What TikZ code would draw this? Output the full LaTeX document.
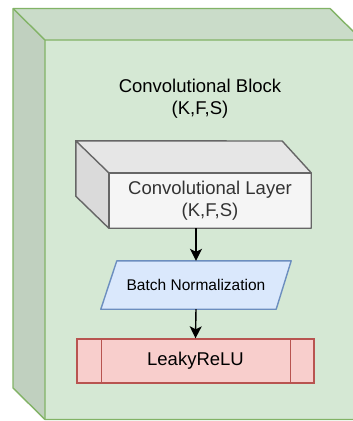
\documentclass[tikz,border=0pt]{standalone}
\usepackage{fontspec}
\setmainfont{Liberation Sans}
\usetikzlibrary{arrows.meta}
\definecolor{gfront}{HTML}{D5E8D4}
\definecolor{gtop}{HTML}{CADCC9}
\definecolor{gleft}{HTML}{C0D0BF}
\definecolor{gline}{HTML}{82B366}
\definecolor{cfront}{HTML}{F5F5F5}
\definecolor{ctop}{HTML}{E6E6E6}
\definecolor{cleft}{HTML}{DADADA}
\definecolor{cline}{HTML}{666666}
\definecolor{bfill}{HTML}{DAE8FC}
\definecolor{bline}{HTML}{6C8EBF}
\definecolor{rfill}{HTML}{F8CECC}
\definecolor{rline}{HTML}{B85450}
\definecolor{ctext}{HTML}{333333}
\begin{document}
\begin{tikzpicture}[x=1pt,y=-1pt,
  lw/.style={line width=1.4pt},
  arr/.style={lw,-{Stealth[length=12pt,width=12pt,inset=3pt]}},
  bigtext/.style={font=\fontsize{18.5}{22}\selectfont,align=center,inner sep=0pt},
  boxnode/.style={minimum width=#1,inner sep=0pt,align=center}
]
\useasboundingbox (0,0) rectangle (353,421);
\clip (0,0) rectangle (353,421);
% outer cube
\fill[gfront] (45,40) rectangle (362,419.5);
\fill[gtop] (13,8.5) -- (330,8.5) -- (362,40) -- (45,40) -- cycle;
\fill[gleft] (13,8.5) -- (45,40) -- (45,419.5) -- (13,388) -- cycle;
\draw[gline,lw,line join=round] (13,8.5) -- (330,8.5) -- (362,40) -- (362,419.5) -- (45,419.5) -- (13,388) -- cycle;
\draw[gline,lw] (13,8.5) -- (45,40) -- (362,40) (45,40) -- (45,419.5);
\node[bigtext] (title) at (200,99) {Convolutional Block\\(K,F,S)};
% convolutional layer cube
\node[boxnode=202pt,minimum height=55pt,fill=cfront,bigtext,text=ctext] (conv) at (210,200.5) {Convolutional Layer\\(K,F,S)};
\fill[ctop] (conv.north west) -- ++(-33,-32) -- ([xshift=-29pt]conv.north east |- 0,141) -- (conv.north east) -- cycle;
\fill[cleft] (conv.north west) -- ++(-33,-32) -- ([xshift=-33pt,yshift=32pt]conv.south west) -- (conv.south west) -- cycle;
\draw[cline,lw,line join=round] (conv.north west) -- ++(-33,-32) -- ([xshift=-29pt]conv.north east |- 0,141) -- (conv.north east) -- (conv.south east) -- (conv.south west) -- ([xshift=-33pt,yshift=32pt]conv.south west) -- ++(0,-56);
\draw[cline,lw] (conv.north west) -- (conv.north east) (conv.north west) -- (conv.south west);
% batch normalization (parallelogram)
\node[boxnode=190pt,minimum height=48pt] (bn) at (196,285) {};
\filldraw[fill=bfill,draw=bline,lw,line join=round] (bn.south west) -- ([xshift=-15pt]bn.south east) -- (bn.north east) -- ([xshift=16pt]bn.north west) -- cycle;
\node[font=\fontsize{15.5}{18}\selectfont] (bnlabel) at (bn.center) {Batch Normalization};
% LeakyReLU
\node[boxnode=237pt,minimum height=44pt,fill=rfill,draw=rline,lw,font=\fontsize{18.5}{22}\selectfont] (act) at (195.5,361) {LeakyReLU};
\draw[rline,lw] ([xshift=25pt]act.north west) -- ([xshift=25pt]act.south west)
  ([xshift=-24pt]act.north east) -- ([xshift=-24pt]act.south east);
% arrows
\draw[arr] (bn.north |- conv.south) -- (bn.north);
\draw[arr] (bn.south) -- (act.north);
\end{tikzpicture}
\end{document}
